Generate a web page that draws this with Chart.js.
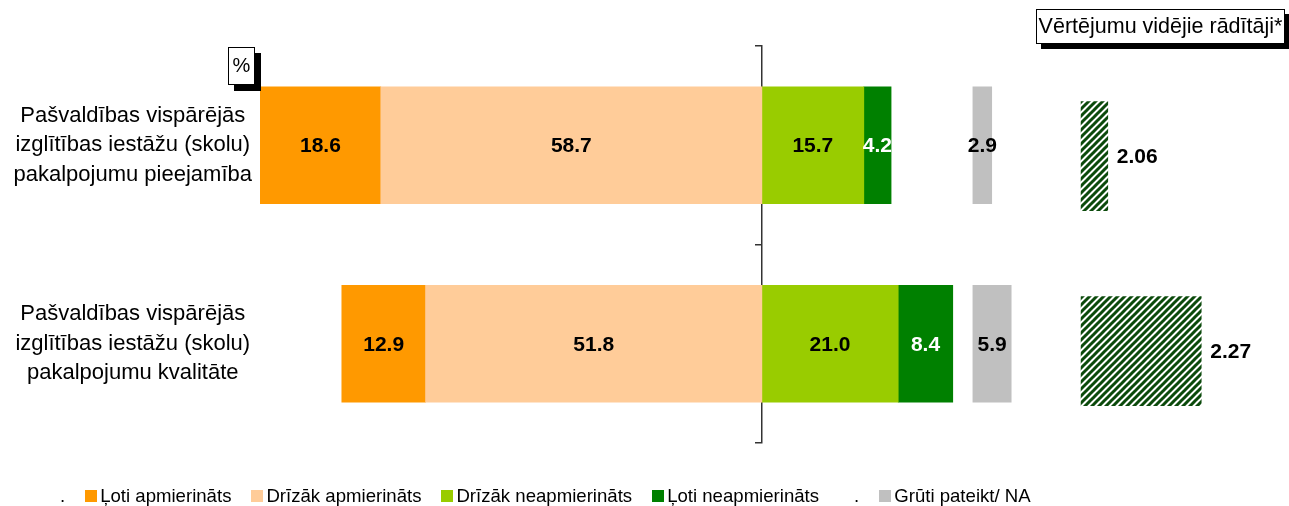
<!DOCTYPE html>
<html>
<head>
<meta charset="utf-8">
<script src="https://cdn.jsdelivr.net/npm/chart.js@4"></script>
<style>
  body { margin: 0; background: #fff; font-family: 'Liberation Sans', Arial, sans-serif; }
  #wrap { position: relative; width: 1289px; height: 506px; }
  .box { position: absolute; background: #fff; border: 1px solid #000; color: #000; box-sizing: border-box; }
  #title { left: 1036px; top: 9px; width: 249px; height: 35px; font-size: 21.5px; line-height: 33px; text-align: center; white-space: nowrap; box-shadow: 5px 5px 0 #000; }
  #pct { left: 228px; top: 47px; width: 27px; height: 38px; font-size: 20px; line-height: 34px; text-align: center; box-shadow: 6px 6px 0 #000; }
  #legend { position: absolute; left: 45px; top: 485px; display: flex; font-size: 18.6px; color: #000; }
  #legend .item { display: flex; align-items: center; margin-right: 20px; white-space: nowrap; }
  #legend .sw { width: 12px; height: 12px; margin-right: 3px; }
</style>
</head>
<body>
<div id="wrap">
  <canvas id="chart" width="1289" height="506"></canvas>
  <div id="pct" class="box">%</div>
  <div id="title" class="box">Vērtējumu vidējie rādītāji*</div>
  <div id="legend"></div>
</div>
<script>
// categories
const categories = [
  ['Pašvaldības vispārējās', 'izglītības iestāžu (skolu)', 'pakalpojumu pieejamība'],
  ['Pašvaldības vispārējās', 'izglītības iestāžu (skolu)', 'pakalpojumu kvalitāte']
];

// series (%)
const lotiApm = [18.6, 12.9];
const drizakApm = [58.7, 51.8];
const drizakNeapm = [15.7, 21.0];
const lotiNeapm = [4.2, 8.4];
const gruti = [2.9, 5.9];
// average scores
const averages = [2.06, 2.27];

const legendNames = ['.', 'Ļoti apmierināts', 'Drīzāk apmierināts', 'Drīzāk neapmierināts', 'Ļoti neapmierināts', '.', 'Grūti pateikt/ NA'];
const legendColors = [null, '#FF9900', '#FFCC99', '#99CC00', '#008000', null, '#C0C0C0'];

Chart.defaults.font.family = "'Liberation Sans', Arial, sans-serif";
Chart.defaults.color = '#000';

// diagonal hatch for the averages
function hatch() {
  const c = document.createElement('canvas');
  c.width = 7; c.height = 7;
  const g = c.getContext('2d');
  g.fillStyle = '#fff';
  g.fillRect(0, 0, 7, 7);
  g.strokeStyle = '#0b4a0b';
  g.lineWidth = 3;
  g.beginPath();
  g.moveTo(-1, 8); g.lineTo(8, -1);
  g.moveTo(-1, 1); g.lineTo(1, -1);
  g.moveTo(6, 8); g.lineTo(8, 6);
  g.stroke();
  return g.createPattern(c, 'repeat');
}

const AVG_BASE = 2;
const NA_SHIFT = 32.5; // gap between the main bars and the NA column

const valueLabels = {
  id: 'valueLabels',
  afterDatasetsDraw(chart) {
    const ctx = chart.ctx;
    ctx.save();
    ctx.textBaseline = 'middle';
    ctx.font = "bold 21px 'Liberation Sans', Arial";
    chart.data.datasets.forEach((ds, i) => {
      const meta = chart.getDatasetMeta(i);
      meta.data.forEach((bar, j) => {
        const v = ds.values[j];
        if (ds.kind === 'avg') {
          ctx.fillStyle = '#000';
          ctx.textAlign = 'left';
          ctx.fillText(v.toFixed(2), bar.x + 9, bar.y + 1);
        } else {
          const p = bar.getCenterPoint();
          ctx.fillStyle = ds.labelColor || '#000';
          ctx.textAlign = 'center';
          ctx.fillText(v.toFixed(1), p.x, p.y + 1);
        }
      });
    });
    ctx.restore();
  }
};

const common = { grouped: false, barThickness: 117, borderWidth: 0 };

new Chart(document.getElementById('chart'), {
  type: 'bar',
  data: {
    labels: categories,
    datasets: [
      { ...common, label: 'Drīzāk apmierināts', values: drizakApm, data: drizakApm.map(v => -v), backgroundColor: '#FFCC99', xAxisID: 'x' },
      { ...common, label: 'Ļoti apmierināts', values: lotiApm, data: lotiApm.map(v => -v), backgroundColor: '#FF9900', xAxisID: 'x' },
      { ...common, label: 'Drīzāk neapmierināts', values: drizakNeapm, data: drizakNeapm, backgroundColor: '#99CC00', xAxisID: 'x' },
      { ...common, label: 'Ļoti neapmierināts', values: lotiNeapm, data: lotiNeapm, backgroundColor: '#008000', labelColor: '#fff', xAxisID: 'x' },
      { ...common, label: 'Grūti pateikt/ NA', values: gruti, data: gruti.map(v => [0, v]), backgroundColor: '#C0C0C0', xAxisID: 'xNa' },
      { ...common, kind: 'avg', barThickness: 109, label: 'Vidējais', values: averages,
        data: averages.map((v, i) => ({ x: [AVG_BASE, v], y: i })), backgroundColor: hatch(), xAxisID: 'xAvg', yAxisID: 'yAvg' }
    ]
  },
  options: {
    indexAxis: 'y',
    responsive: false,
    animation: false,
    layout: { padding: { top: 46, bottom: 63, left: 0, right: 9 } },
    plugins: { legend: { display: false }, tooltip: { enabled: false } },
    scales: {
      x: { display: false, stacked: true, min: -77.3, max: 79.8 },
      xNa: { display: false, min: -77.3 - NA_SHIFT, max: 79.8 - NA_SHIFT },
      xAvg: { display: false, min: 0.155, max: 2.447 },
      y: {
        position: 'left',
        grid: { display: false },
        border: { display: false },
        ticks: { crossAlign: 'center', padding: 0, font: { size: 22, lineHeight: 1.34 }, color: '#000' },
        afterFit(scale) { scale.width = 260; scale.paddingTop = 0; scale.paddingBottom = 0; }
      },
      // averages sit slightly lower than the main bars
      yAvg: { type: 'linear', display: false, reverse: true, offset: false, min: -0.565, max: 1.471 },
      yLine: {
        type: 'category',
        position: { x: 0 },
        z: 1,
        grid: { drawOnChartArea: false, offset: true, tickLength: 6, color: '#333', lineWidth: 1.5 },
        border: { color: '#333', width: 1.5 },
        ticks: { display: false }
      }
    }
  },
  plugins: [valueLabels]
});

// legend
document.getElementById('legend').innerHTML = legendNames.map((n, i) => (
  `<div class="item"><span class="sw" style="background:${legendColors[i] || 'transparent'}"></span><span>${n}</span></div>`
)).join('');
</script>
</body>
</html>
